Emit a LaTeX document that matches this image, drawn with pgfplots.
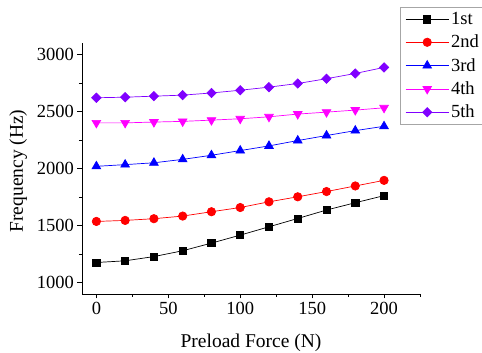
\documentclass[border=0pt]{standalone}
\usepackage{fontspec}
\setmainfont{Liberation Serif}
\usepackage{pgfplots}
\pgfplotsset{compat=1.18}
\definecolor{cviolet}{RGB}{128,0,255}
\definecolor{cmag}{RGB}{255,0,255}
\definecolor{cblue}{RGB}{0,0,255}
\definecolor{cred}{RGB}{255,0,0}
\begin{document}
\begin{tikzpicture}
\begin{axis}[
  at={(82pt,59pt)}, anchor=south west,
  scale only axis, width=338pt, height=251pt,
  xmin=-10, xmax=225, ymin=900, ymax=3100,
  axis x line*=bottom, axis y line*=left,
  axis line style={line width=0.9pt, -},
  xtick={0,50,100,150,200}, minor xtick={25,75,125,175,225},
  ytick={1000,1500,2000,2500,3000}, minor ytick={1250,1750,2250,2750},
  tick align=outside, major tick length=4.5pt, minor tick length=3pt,
  tick style={line width=0.8pt, black},
  /pgf/number format/assume math mode=true,
  /pgf/number format/1000 sep={},
  ticklabel style={font=\fontsize{18.5}{20}\selectfont},
  xlabel={Preload Force (N)}, ylabel={Frequency (Hz)},
  label style={font=\fontsize{19.5}{21}\selectfont},
  xlabel style={at={(axis description cs:0.5,-0.195)}, anchor=center},
  ylabel style={at={(axis description cs:-0.189,0.49)}, anchor=center, rotate=0},
  legend cell align=left,
  legend style={at={(0.941,1.143)}, anchor=north west, draw=gray!70, line width=0.6pt,
    fill=white, font=\fontsize{18.5}{20}\selectfont, inner xsep=5pt, inner ysep=3pt,
    row sep=5pt},
  legend image code/.code={\draw[mark repeat=2,mark phase=2,#1] plot coordinates {(0pt,0pt) (21.5pt,0pt) (43pt,0pt)};},
  every axis plot/.append style={line width=0.7pt},
]
\addplot[black, mark=square*, mark size=3.6pt, mark options={solid, fill=black}] coordinates {
(0,1176) (20,1191) (40,1228) (60,1279) (80,1346) (100,1416) (120,1489) (140,1562) (160,1636) (180,1700) (200,1762)};
\addlegendentry{1st}
\addplot[cred, mark=*, mark size=4.2pt, mark options={solid, fill=cred}] coordinates {
(0,1536) (20,1545) (40,1560) (60,1583) (80,1621) (100,1658) (120,1708) (140,1752) (160,1798) (180,1847) (200,1896)};
\addlegendentry{2nd}
\addplot[cblue, mark=triangle*, mark size=5pt, mark options={solid, fill=cblue}] coordinates {
(0,2019) (20,2034) (40,2050) (60,2080) (80,2116) (100,2157) (120,2198) (140,2245) (160,2289) (180,2332) (200,2370)};
\addlegendentry{3rd}
\addplot[cmag, mark=triangle*, mark size=5pt, mark options={solid, fill=cmag, rotate=180}] coordinates {
(0,2400) (20,2400) (40,2407) (60,2413) (80,2424) (100,2436) (120,2453) (140,2477) (160,2494) (180,2512) (200,2532)};
\addlegendentry{4th}
\addplot[cviolet, mark=square*, mark size=3.3pt, mark options={solid, fill=cviolet, rotate=45}] coordinates {
(0,2620) (20,2625) (40,2634) (60,2643) (80,2662) (100,2686) (120,2713) (140,2745) (160,2787) (180,2833) (200,2886)};
\addlegendentry{5th}
\end{axis}
\pgfresetboundingbox
\useasboundingbox (0,0) rectangle (482pt,353pt);
\end{tikzpicture}
\end{document}
